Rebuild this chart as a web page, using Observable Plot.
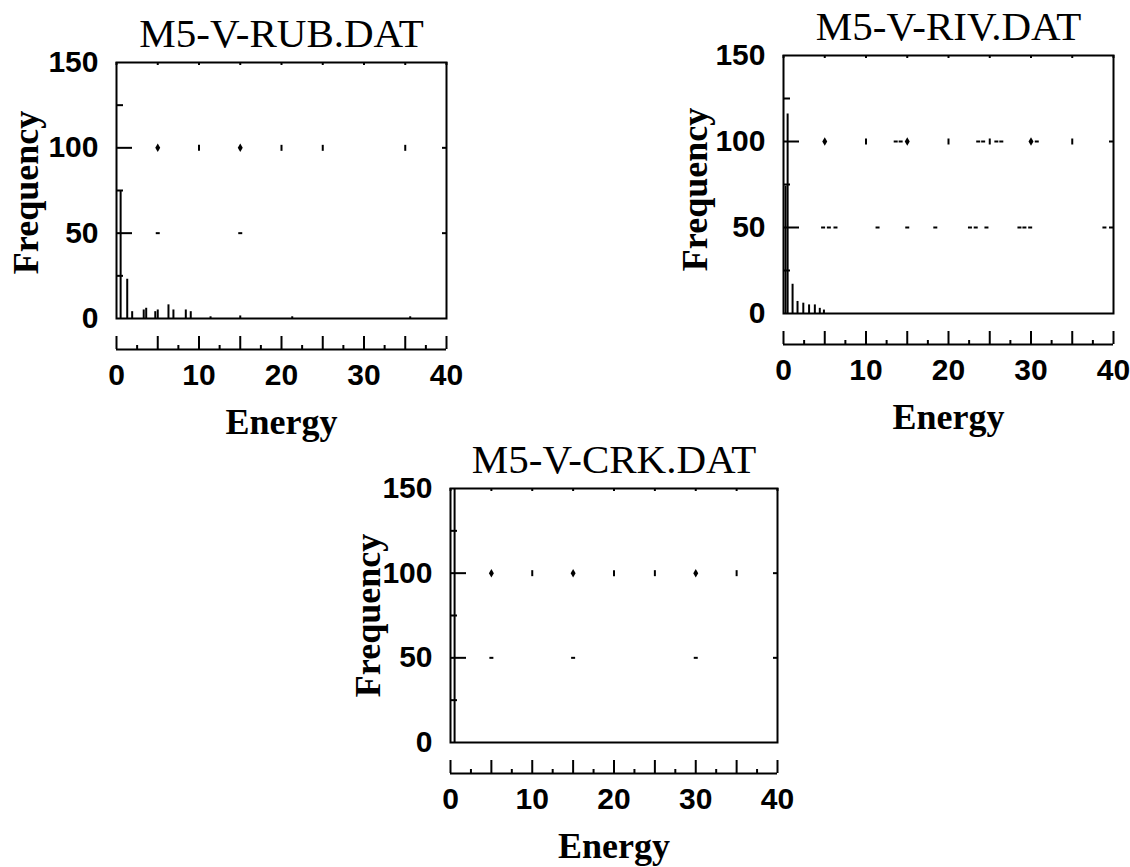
<!DOCTYPE html>
<html>
<head>
<meta charset="utf-8">
<script src="https://cdn.jsdelivr.net/npm/d3@7"></script>
<script src="https://cdn.jsdelivr.net/npm/@observablehq/plot@0.6"></script>
<style>
  body { margin: 0; background: #fff; }
  #page { position: relative; width: 1130px; height: 867px; overflow: hidden; background: #fff; }
  #page svg { position: absolute; left: 0; top: 0; }
</style>
</head>
<body>
<div id="page"></div>
<script>
// Panel titles and shared axis ticks
const titles = ["M5-V-RUB.DAT", "M5-V-RIV.DAT", "M5-V-CRK.DAT"];
const xTickLabels = [0, 10, 20, 30, 40];
const yTickLabels = [0, 50, 100, 150];
const xMajorTicks = [0, 5, 10, 15, 20, 25, 30, 35, 40];
const xMinorTicks = [2.5, 7.5, 12.5, 17.5, 22.5, 27.5, 32.5, 37.5];
const yMajorTicks = [50, 100];
const yMinorTicks = [25, 75, 125];

// Histogram: energy bin vs. frequency
const rubEnergy = [0.5, 1.3, 1.9, 3.3, 3.6, 4.7, 5.0, 6.3, 6.9, 8.4, 9.0, 11.4, 15.0, 21.3, 35.6];
const rubFreq   = [75, 23, 4, 5, 6, 4, 5, 8, 5, 5, 4, 1, 1.5, 1, 1];
const rivEnergy = [0.25, 0.5, 1.1, 1.7, 2.4, 3.1, 3.8, 4.4, 4.9];
const rivFreq   = [74, 116, 17, 7, 6, 5, 5, 3, 2];
const crkEnergy = [0.5];
const crkFreq   = [150];

// Surviving dots of the dotted grid (energy positions on the 100 and 50 lines)
const rubGridDots100 = [5, 15];
const rubGridTicks100 = [10, 20, 25, 35];
const rubGridDashes100 = [];
const rubGridDashes50 = [5, 15];
const rivGridDots100 = [5, 15, 30];
const rivGridTicks100 = [10, 20, 25, 35];
const rivGridDashes100 = [13.6, 14.2, 23.6, 24.2, 25.8, 26.4, 30.7];
const rivGridDashes50 = [4.8, 5.5, 6.3, 11.4, 15, 18.4, 22.6, 23.3, 24.6, 28.6, 29.2, 29.9, 38.9];
const crkGridDots100 = [5, 15, 30];
const crkGridTicks100 = [10, 20, 25, 35];
const crkGridDashes100 = [];
const crkGridDashes50 = [5, 15, 30];

const W = 1130, H = 867;

// custom tiny glyphs for the dotted grid
const vTick = { draw(ctx) { ctx.rect(-1, -3, 2, 6); } };
const hDash = { draw(ctx) { ctx.rect(-2, -1, 4, 2); } };

const tickFont = "'Liberation Sans', Arial, sans-serif";
const serif = "'Liberation Serif', 'Times New Roman', serif";

function panel(cfg) {
  const fw = cfg.right - cfg.left, fh = cfg.bottom - cfg.top;
  const bars = cfg.energy.map((e, i) => ({energy: e, freq: cfg.freq[i]}));
  const pts = (xs, f) => xs.map(e => ({energy: e, freq: f}));
  return Plot.plot({
    width: W, height: H,
    marginLeft: cfg.left, marginRight: W - cfg.right,
    marginTop: cfg.top, marginBottom: H - cfg.bottom,
    x: {domain: [0, 40], axis: null},
    y: {domain: [0, 150], axis: null},
    style: {background: "transparent", color: "#000"},
    marks: [
      // histogram bars
      Plot.ruleX(bars, {x: "energy", y1: 0, y2: "freq", stroke: "#000", strokeWidth: 2}),
      // dotted grid remnants
      Plot.dot(pts(cfg.dots100, 100), {x: "energy", y: "freq", symbol: "diamond", r: 2.6, fill: "#000", stroke: "none"}),
      Plot.dot(pts(cfg.ticks100, 100), {x: "energy", y: "freq", symbol: vTick, fill: "#000", stroke: "none"}),
      Plot.dot(pts(cfg.dashes100, 100), {x: "energy", y: "freq", symbol: hDash, fill: "#000", stroke: "none"}),
      Plot.dot(pts(cfg.dashes50, 50), {x: "energy", y: "freq", symbol: hDash, fill: "#000", stroke: "none"}),
      // inner y ticks on the left edge
      Plot.ruleY(yMajorTicks, {y: d => d, insetRight: fw - 16, stroke: "#000", strokeWidth: 2}),
      Plot.ruleY(yMinorTicks, {y: d => d, insetRight: fw - 7, stroke: "#000", strokeWidth: 2}),
      // small ticks on the right edge and along the top
      Plot.ruleY(yMajorTicks, {y: d => d, insetLeft: fw - 4, stroke: "#000", strokeWidth: 2}),
      Plot.ruleX(xMajorTicks, {x: d => d, insetBottom: fh - 3, stroke: "#000", strokeWidth: 2}),
      Plot.frame({stroke: "#000", strokeWidth: 2}),
      // detached energy axis below the frame
      Plot.ruleY([0], {y: d => d, dy: 31, stroke: "#000", strokeWidth: 2}),
      Plot.ruleX(xMajorTicks, {x: d => d, insetTop: fh - 13, dy: 31, stroke: "#000", strokeWidth: 2}),
      Plot.ruleX(xMinorTicks, {x: d => d, insetTop: fh - 4, dy: 31, stroke: "#000", strokeWidth: 2}),
      // tick labels
      Plot.text(xTickLabels, {x: d => d, frameAnchor: "bottom", dy: 57, lineAnchor: "middle", text: d => String(d),
        fontSize: 30, fontWeight: "bold", fontFamily: tickFont, fill: "#000"}),
      Plot.text(yTickLabels, {y: d => d, frameAnchor: "left", dx: -18, textAnchor: "end", lineAnchor: "middle",
        text: d => String(d), fontSize: 30, fontWeight: "bold", fontFamily: tickFont, fill: "#000"}),
      // titles
      Plot.text([cfg.title], {frameAnchor: "top", dy: -29, lineAnchor: "middle", text: d => d,
        fontSize: 41, fontFamily: serif, fill: "#000"}),
      Plot.text(["Energy"], {frameAnchor: "bottom", dy: 104, lineAnchor: "middle", text: d => d,
        fontSize: 36, fontWeight: "bold", fontFamily: serif, fill: "#000"}),
      Plot.text(["Frequency"], {frameAnchor: "left", dx: cfg.ylabelDx, dy: cfg.ylabelDy, rotate: -90,
        textAnchor: "middle", lineAnchor: "middle", text: d => d,
        fontSize: 36, fontWeight: "bold", fontFamily: serif, fill: "#000"})
    ]
  });
}

const page = document.getElementById("page");
page.append(panel({
  title: titles[0], left: 116, right: 446, top: 62, bottom: 318,
  energy: rubEnergy, freq: rubFreq,
  dots100: rubGridDots100, ticks100: rubGridTicks100, dashes100: rubGridDashes100, dashes50: rubGridDashes50,
  ylabelDx: -90, ylabelDy: 2
}));
page.append(panel({
  title: titles[1], left: 783, right: 1113, top: 55, bottom: 313,
  energy: rivEnergy, freq: rivFreq,
  dots100: rivGridDots100, ticks100: rivGridTicks100, dashes100: rivGridDashes100, dashes50: rivGridDashes50,
  ylabelDx: -88, ylabelDy: 5
}));
page.append(panel({
  title: titles[2], left: 450, right: 777, top: 488, bottom: 742,
  energy: crkEnergy, freq: crkFreq,
  dots100: crkGridDots100, ticks100: crkGridTicks100, dashes100: crkGridDashes100, dashes50: crkGridDashes50,
  ylabelDx: -82, ylabelDy: 0
}));
</script>
</body>
</html>
